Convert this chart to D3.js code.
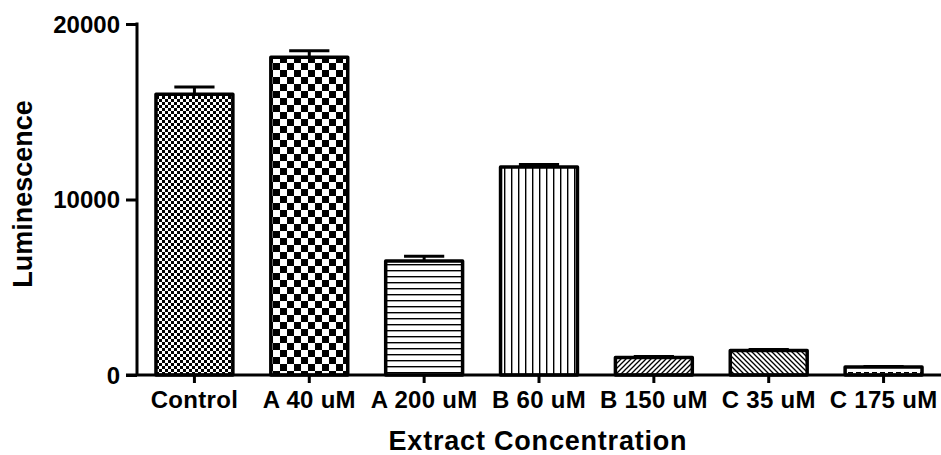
<!DOCTYPE html>
<html>
<head>
<meta charset="utf-8">
<script src="https://cdn.jsdelivr.net/npm/d3@7"></script>
<style>
  html, body { margin: 0; padding: 0; background: #fff; }
  svg { display: block; }
  text { font-family: "Liberation Sans", Arial, sans-serif; font-weight: bold; fill: #000; }
</style>
</head>
<body>
<svg id="chart" width="941" height="455"></svg>
<script>
const categories = ["Control", "A 40 uM", "A 200 uM", "B 60 uM", "B 150 uM", "C 35 uM", "C 175 uM"];
const means = [16000, 18100, 6500, 11850, 1000, 1400, 450];
const errors = [410, 380, 260, 150, 60, 60, 40];
const patterns = ["fineCheck", "bigCheck", "hLines", "vLines", "fwdDiag", "backDiag", "dashH"];
const yTicks = [0, 10000, 20000];
const yLabel = "Luminescence";
const xLabel = "Extract Concentration";

const svg = d3.select("#chart");

const x = d3.scaleBand().domain(categories).range([137, 941]).paddingInner(0.3).paddingOuter(0.15);
const y = d3.scaleLinear().domain([0, 20000]).range([375, 24]);

// patterns
const defs = svg.append("defs");
function pat(id, w, h) {
  return defs.append("pattern").attr("id", id).attr("patternUnits", "userSpaceOnUse")
    .attr("width", w).attr("height", h);
}
let p = pat("fineCheck", 6, 6);
p.append("rect").attr("width", 6).attr("height", 6).attr("fill", "#fff");
p.append("rect").attr("width", 3).attr("height", 3).attr("fill", "#000");
p.append("rect").attr("x", 3).attr("y", 3).attr("width", 3).attr("height", 3).attr("fill", "#000");

p = pat("bigCheck", 14, 14);
p.append("rect").attr("width", 14).attr("height", 14).attr("fill", "#fff");
p.append("rect").attr("width", 7).attr("height", 7).attr("fill", "#000");
p.append("rect").attr("x", 7).attr("y", 7).attr("width", 7).attr("height", 7).attr("fill", "#000");

p = pat("hLines", 6, 6);
p.append("rect").attr("width", 6).attr("height", 6).attr("fill", "#fff");
p.append("rect").attr("y", 0).attr("width", 6).attr("height", 1.4).attr("fill", "#000");

p = pat("vLines", 7, 7);
p.append("rect").attr("width", 7).attr("height", 7).attr("fill", "#fff");
p.append("rect").attr("x", 0).attr("width", 1.4).attr("height", 7).attr("fill", "#000");

p = pat("fwdDiag", 5, 5);
p.append("rect").attr("width", 5).attr("height", 5).attr("fill", "#fff");
p.append("path").attr("d", "M-1,6 L6,-1 M-1,1 L1,-1 M4,6 L6,4").attr("stroke", "#000").attr("stroke-width", 1.3);

p = pat("backDiag", 5, 5);
p.append("rect").attr("width", 5).attr("height", 5).attr("fill", "#fff");
p.append("path").attr("d", "M-1,-1 L6,6 M-1,4 L1,6 M4,-1 L6,1").attr("stroke", "#000").attr("stroke-width", 1.3);

p = pat("dashH", 8, 8);
p.append("rect").attr("width", 8).attr("height", 8).attr("fill", "#fff");
p.append("rect").attr("x", 0).attr("y", 4).attr("width", 5).attr("height", 1.5).attr("fill", "#000");

const data = categories.map((c, i) => ({ c, m: means[i], e: errors[i], p: patterns[i] }));

// error bars (behind bars)
const eb = svg.append("g");
data.forEach(d => {
  const cx = x(d.c) + x.bandwidth() / 2;
  eb.append("line").attr("x1", cx).attr("x2", cx).attr("y1", y(d.m)).attr("y2", y(d.m + d.e))
    .attr("stroke", "#000").attr("stroke-width", 3);
  eb.append("line").attr("x1", cx - x.bandwidth() / 4).attr("x2", cx + x.bandwidth() / 4)
    .attr("y1", y(d.m + d.e)).attr("y2", y(d.m + d.e))
    .attr("stroke", "#000").attr("stroke-width", 3);
});

// bars
svg.append("g").selectAll("rect").data(data).join("rect")
  .attr("x", d => x(d.c) + 1.75)
  .attr("width", x.bandwidth() - 3.5)
  .attr("y", d => y(d.m))
  .attr("height", d => y(0) - y(d.m))
  .attr("fill", d => `url(#${d.p})`)
  .attr("stroke", "#000").attr("stroke-width", 3.5).attr("stroke-linejoin", "round");

// y axis
const yAxis = svg.append("g").attr("transform", "translate(137,0)")
  .call(d3.axisLeft(y).tickValues(yTicks).tickSize(11).tickPadding(6).tickFormat(d3.format("d")));
yAxis.select(".domain").attr("d", `M0,${y(20000) - 1.5}V${y(0)}`).attr("stroke-width", 3);
yAxis.selectAll(".tick line").attr("stroke-width", 3);
yAxis.selectAll(".tick text").style("font-size", "24px").attr("dy", "0.35em");

// x axis
const xAxis = svg.append("g").attr("transform", "translate(0,375)")
  .call(d3.axisBottom(x).tickSize(8).tickPadding(8));
xAxis.select(".domain").attr("d", `M126,0H941`).attr("stroke-width", 3);
xAxis.selectAll(".tick line").attr("stroke-width", 3);
xAxis.selectAll(".tick text").style("font-size", "24px").style("letter-spacing", "0.3px").attr("dy", "0.71em");

svg.selectAll(".domain, .tick line").attr("stroke", "#000");

// titles
svg.append("text").attr("transform", "translate(32,194) rotate(-90)")
  .attr("text-anchor", "middle").style("font-size", "27px").text(yLabel);
svg.append("text").attr("x", 538).attr("y", 450)
  .attr("text-anchor", "middle").style("font-size", "27px").style("letter-spacing", "0.8px").text(xLabel);
</script>
</body>
</html>
